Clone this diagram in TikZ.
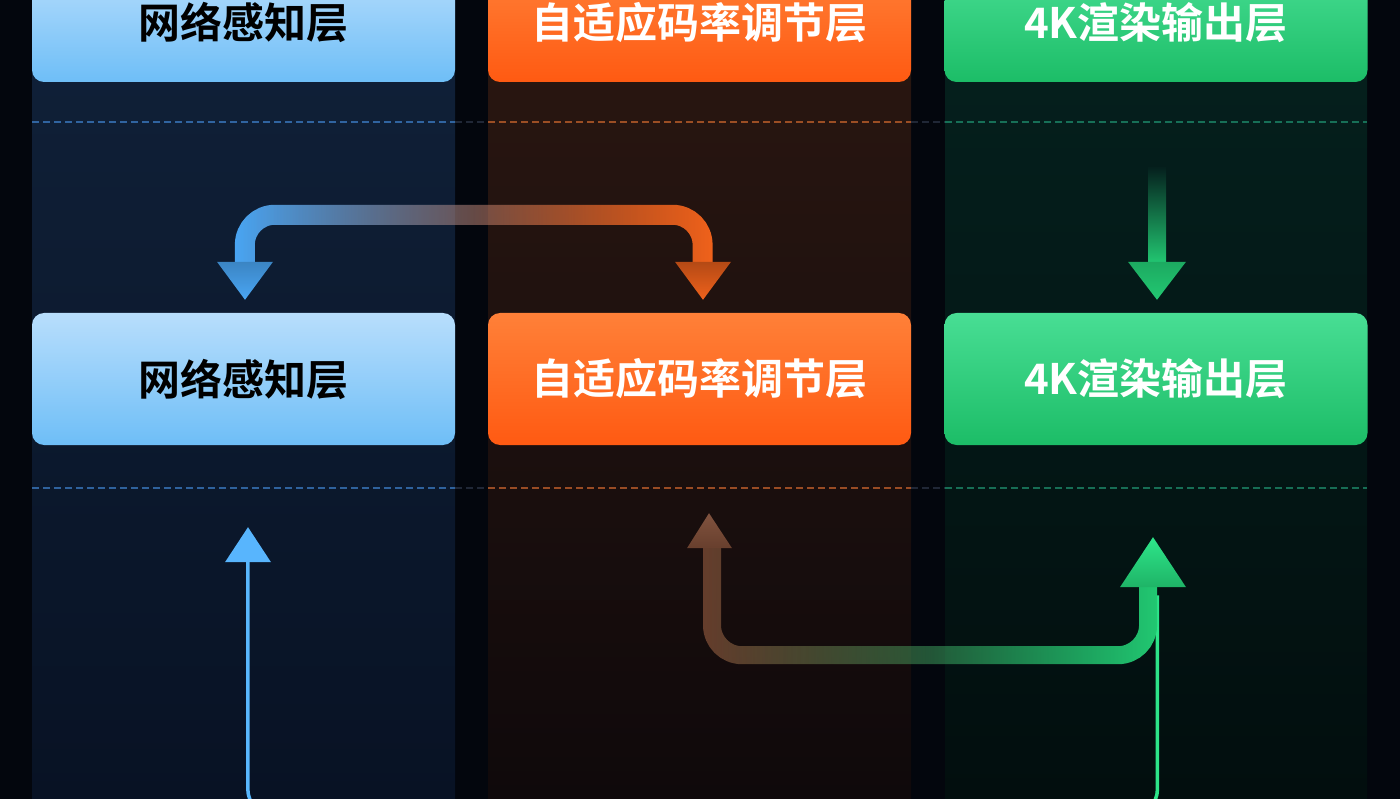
\documentclass[tikz,border=0pt]{standalone}
\usepackage{fontspec}
\newfontfamily\cjk{Noto Sans CJK SC}[BoldFont={Noto Sans CJK SC Bold}]
\usetikzlibrary{calc,fadings}
\definecolor{bgc}{HTML}{03060D}
\definecolor{colB}{HTML}{102139}
\definecolor{colBb}{HTML}{081224}
\definecolor{colO}{HTML}{2B1711}
\definecolor{colOb}{HTML}{0F090B}
\definecolor{colG}{HTML}{05211E}
\definecolor{colGb}{HTML}{020E0E}
\definecolor{boxBt}{HTML}{B8DEFC}
\definecolor{boxBb}{HTML}{6EBEF7}
\definecolor{boxOt}{HTML}{FF8038}
\definecolor{boxOb}{HTML}{FF5A12}
\definecolor{boxGt}{HTML}{48DE94}
\definecolor{boxGb}{HTML}{1CBD67}
\definecolor{arrB}{HTML}{4AA6F4}
\definecolor{arrO}{HTML}{F0621C}
\definecolor{arrG}{HTML}{22C872}
\definecolor{lineB}{HTML}{5AB8FF}
\definecolor{lineG}{HTML}{2EE68A}
\definecolor{dimO}{HTML}{7A4A35}
\definecolor{dashB}{HTML}{3C7CC4}
\definecolor{dashO}{HTML}{C4622C}
\definecolor{dashG}{HTML}{1E8C6C}
\definecolor{dashN}{HTML}{2A3344}
\tikzfading[name=outE, left color=transparent!0, right color=transparent!100, middle color=transparent!65]
\tikzfading[name=outW, left color=transparent!100, right color=transparent!0, middle color=transparent!65]
\begin{document}
\begin{tikzpicture}[x=1pt,y=-1pt,
  layerbox/.style={minimum width=423pt, minimum height=132pt, rounded corners=12pt, inner sep=0pt,
     font=\cjk\bfseries\fontsize{42}{50}\selectfont},
  toplayer/.style={minimum height=118pt},
  blueL/.style={layerbox, top color=boxBt, bottom color=boxBb, text=black},
  orangeL/.style={layerbox, top color=boxOt, bottom color=boxOb, text=white},
  greenL/.style={layerbox, top color=boxGt, bottom color=boxGb, text=white},
  dashline/.style={line width=2pt, dash pattern=on 7pt off 4pt, opacity=.75},
  band/.style={line width=20pt, rounded corners=30pt},
  thinline/.style={line width=3.5pt, rounded corners=26pt},
]
\useasboundingbox (0,0) rectangle (1400,799);
\fill[bgc] (0,0) rectangle (1400,799);
% column bands
\shade[top color=colB, bottom color=colBb] (32,0) rectangle (455,799);
\shade[top color=colO, bottom color=colOb] (488,0) rectangle (911,799);
\shade[top color=colG, bottom color=colGb] (945,0) rectangle (1367,799);
% dashed separators
\foreach \yy in {122,488}{
  \draw[dashline, dashB] (32,\yy) -- (455,\yy);
  \draw[dashline, dashN] (455,\yy) -- (488,\yy);
  \draw[dashline, dashO] (488,\yy) -- (911,\yy);
  \draw[dashline, dashN] (911,\yy) -- (945,\yy);
  \draw[dashline, dashG] (945,\yy) -- (1367,\yy);
}
% layer boxes
\node[blueL, toplayer]   (bT) at (243.5,23) {网络感知层};
\node[orangeL, toplayer] (oT) at (699.5,23) {自适应码率调节层};
\node[greenL, toplayer]  (gT) at (1156,23)  {4K渲染输出层};
\node[blueL]   (b)  at (243.5,379) {网络感知层};
\node[orangeL] (o)  at (699.5,379) {自适应码率调节层};
\node[greenL]  (g)  at (1156,379)  {4K渲染输出层};
% arrow tip coordinates
\coordinate (bIn) at ($(b.north)+(1.5,-13)$);
\coordinate (oIn) at ($(o.north)+(3.5,-13)$);
\coordinate (gIn) at ($(g.north)+(1,-13)$);
\coordinate (bUp) at ($(b.south)+(4.5,82)$);
\coordinate (oUp) at ($(o.south)+(9.5,68)$);
\coordinate (gUp) at ($(g.south)+(-3,92)$);
% blue <-> orange top connector
\draw[band, arrB, path fading=outE] ($(bIn)+(0,-34)$) -- ++(0,-51) -| ($(oIn)+(0,-34)$);
\draw[band, arrO, path fading=outW] ($(bIn)+(0,-34)$) -- ++(0,-51) -| ($(oIn)+(0,-34)$);
\shade[top color=arrB!80!black, bottom color=arrB] ($(bIn)+(-28,-38)$) -- ($(bIn)+(28,-38)$) -- (bIn) -- cycle;
\shade[top color=arrO!75!black, bottom color=arrO] ($(oIn)+(-28,-38)$) -- ($(oIn)+(28,-38)$) -- (oIn) -- cycle;
% green down arrow
\shade[top color=colG, bottom color=arrG] ($(gIn)+(-9,-132)$) rectangle ($(gIn)+(9,-36)$);
\shade[top color=arrG!85!black, bottom color=arrG] ($(gIn)+(-29,-38)$) -- ($(gIn)+(29,-38)$) -- (gIn) -- cycle;
% thin bottom line blue <-> green
\draw[thinline, lineB, path fading=outE] ($(bUp)+(0,33)$) -- ++(0,255) -| ($(gUp)+(5,58)$);
\draw[thinline, lineG, path fading=outW] ($(bUp)+(0,33)$) -- ++(0,255) -| ($(gUp)+(5,58)$);
\fill[lineB!85!arrB] ($(bUp)+(-23,35)$) -- ($(bUp)+(23,35)$) -- (bUp) -- cycle;
% orange <-> green bottom connector
\draw[band, line width=18pt, dimO, opacity=.8, path fading=outE] ($(oUp)+(3,33)$) -- ++(0,109) -| ($(gUp)+(-5,48)$);
\draw[band, line width=18pt, arrG, path fading=outW] ($(oUp)+(3,33)$) -- ++(0,109) -| ($(gUp)+(-5,48)$);
\shade[top color=dimO!95!white, bottom color=dimO!85!black] ($(oUp)+(-22,35)$) -- ($(oUp)+(23,35)$) -- (oUp) -- cycle;
\shade[top color=lineG, bottom color=arrG!90!black] ($(gUp)+(-33,50)$) -- ($(gUp)+(33,50)$) -- (gUp) -- cycle;
\end{tikzpicture}
\end{document}
